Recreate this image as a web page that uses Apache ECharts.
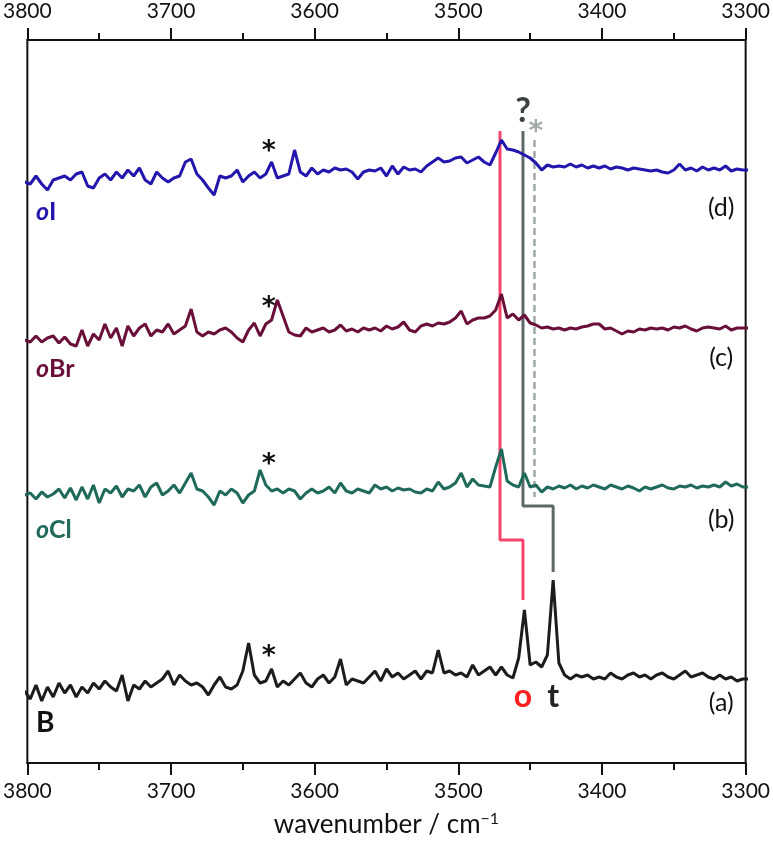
<!DOCTYPE html>
<html>
<head>
<meta charset="utf-8">
<script src="https://cdn.jsdelivr.net/npm/echarts@6/dist/echarts.min.js"></script>
<style>
  html, body { margin: 0; background: #fff; }
  #chart { width: 773px; height: 846px; }
</style>
</head>
<body>
<div id="chart"></div>
<script>
// wavenumber grid (cm-1), 4 cm-1 steps
const wavenumber = [
  3802, 3798, 3794, 3790, 3786, 3782, 3778, 3774, 3770, 3766,
  3762, 3758, 3754, 3750, 3746, 3742, 3738, 3734, 3730, 3726,
  3722, 3718, 3714, 3710, 3706, 3702, 3698, 3694, 3690, 3686,
  3682, 3678, 3674, 3670, 3666, 3662, 3658, 3654, 3650, 3646,
  3642, 3638, 3634, 3630, 3626, 3622, 3618, 3614, 3610, 3606,
  3602, 3598, 3594, 3590, 3586, 3582, 3578, 3574, 3570, 3566,
  3562, 3558, 3554, 3550, 3546, 3542, 3538, 3534, 3530, 3526,
  3522, 3518, 3514, 3510, 3506, 3502, 3498, 3494, 3490, 3486,
  3482, 3478, 3474, 3470, 3466, 3462, 3458, 3454, 3450, 3446,
  3442, 3438, 3434, 3430, 3426, 3422, 3418, 3414, 3410, 3406,
  3402, 3398, 3394, 3390, 3386, 3382, 3378, 3374, 3370, 3366,
  3362, 3358, 3354, 3350, 3346, 3342, 3338, 3334, 3330, 3326,
  3322, 3318, 3314, 3310, 3306, 3302, 3298
];

// (a) B
const specA = [
  2, -6, 8, -8, 6, -4, 10, 0, 8, -4,
  6, 0, 10, 4, 12, 6, 2, 18, -8, 8,
  4, 12, 6, 10, 14, 22, 8, 18, 12, 8,
  10, 6, -2, 8, 16, 6, 4, 8, 22, 50,
  18, 10, 12, 24, 6, 12, 8, 14, 20, 10,
  6, 14, 18, 10, 16, 34, 8, 14, 12, 10,
  16, 22, 12, 24, 16, 20, 14, 18, 22, 14,
  22, 20, 43, 20, 22, 18, 20, 16, 28, 18,
  22, 26, 18, 26, 18, 15, 35, 83, 28, 31,
  26, 38, 113, 30, 18, 14, 18, 16, 18, 14,
  16, 14, 20, 16, 14, 18, 20, 16, 18, 14,
  18, 20, 16, 14, 18, 22, 16, 18, 20, 16,
  14, 18, 14, 16, 12, 14, 14
];
// (b) oCl
const specB = [
  0, 2, -4, 3, -2, 1, 6, -3, 7, -5,
  8, -4, 10, -8, 6, 2, 9, -2, 6, 4,
  10, -2, 8, 12, 0, 4, 10, 2, 12, 22,
  6, 4, -2, -10, 4, 0, 6, 2, -8, 0,
  4, 25, 10, 4, 6, 2, 6, 4, -4, 2,
  6, 2, 4, 8, 2, 12, 4, 2, 6, 4,
  2, 10, 6, 8, 4, 7, 5, 6, 3, 2,
  6, 4, 13, 6, 8, 12, 22, 8, 16, 10,
  9, 8, 28, 46, 14, 10, 8, 22, 8, 10,
  3, 8, 6, 9, 7, 10, 6, 9, 7, 10,
  8, 6, 10, 8, 6, 9, 7, 4, 8, 6,
  8, 10, 7, 6, 9, 8, 10, 7, 9, 8,
  10, 8, 13, 9, 11, 8, 8
];
// (c) oBr
const specC = [
  0, -2, 4, -2, 2, 4, -3, 3, -4, -6,
  10, -6, 6, 0, 16, 2, 12, -6, 14, 4,
  12, 16, 4, 10, 8, 16, 6, 10, 14, 31,
  8, 4, 8, 6, 10, 12, 8, 2, -2, 10,
  17, 4, 16, 20, 40, 24, 8, 5, 4, 12,
  8, 10, 12, 8, 10, 15, 9, 11, 8, 12,
  10, 12, 9, 14, 11, 13, 18, 10, 8, 14,
  16, 14, 17, 16, 18, 22, 29, 16, 20, 22,
  22, 24, 30, 46, 22, 26, 20, 25, 17, 15,
  12, 13, 11, 12, 10, 12, 11, 13, 14, 16,
  16, 11, 12, 9, 6, 9, 8, 11, 10, 12,
  11, 12, 10, 13, 12, 14, 11, 9, 12, 13,
  12, 11, 14, 10, 12, 12, 12
];
// (d) oI
const specD = [
  0, -2, 6, -2, -8, 2, 4, 6, 2, 8,
  10, -4, -6, 4, 8, 2, 10, 4, 12, 6,
  14, 2, -2, 10, 4, 0, 4, 6, 20, 23,
  8, 2, -6, -13, 6, 4, 6, 12, 0, 6,
  10, 4, 8, 20, 4, 6, 8, 32, 10, 6,
  14, 8, 12, 10, 14, 12, 13, 10, 3, 10,
  12, 11, 14, 6, 16, 8, 15, 12, 13, 10,
  16, 20, 24, 20, 21, 24, 25, 19, 22, 25,
  20, 17, 29, 42, 33, 32, 30, 27, 24, 19,
  12, 17, 15, 16, 15, 18, 15, 17, 14, 16,
  14, 16, 13, 15, 14, 12, 14, 13, 12, 11,
  12, 10, 9, 12, 18, 12, 14, 11, 15, 12,
  14, 12, 16, 11, 13, 12, 12
];

// vertical stacking offsets of the traces
const offsetA = 70, offsetB = 268, offsetC = 423, offsetD = 581;

// assignment markers [wavenumber, intensity]
const oMarker = [[3471, 632], [3471, 223], [3455, 223], [3455, 163]];
const tMarker = [[3455, 632], [3455, 257], [3434, 257], [3434, 191]];
const unknownMarker = [[3447, 623], [3447, 266]];

const font = 'Lato';

function trace(spec, offset) {
  return wavenumber.map((w, i) => [w, offset + spec[i]]);
}

function lineSeries(name, data, color, extra) {
  return Object.assign({
    name: name,
    type: 'line',
    data: data,
    symbol: 'none',
    clip: true,
    silent: true,
    lineStyle: { color: color, width: 3 },
    z: 3
  }, extra || {});
}

// text annotations
const star = { fontSize: 27, fontWeight: 'bold', color: '#111', fontFamily: 'DejaVu Sans' };
const tag = { fontSize: 25, color: '#111' };
const annotations = [
  { value: [3632, 611], text: '*', s: star },
  { value: [3632, 455], text: '*', s: star },
  { value: [3632, 298], text: '*', s: star },
  { value: [3632, 106], text: '*', s: star },
  { value: [3455, 652], text: '?', s: { fontSize: 34, fontWeight: 'bold', color: '#3b4343' } },
  { value: [3446, 630], text: '*', s: { fontSize: 28, fontWeight: 'bold', color: '#a3abab', fontFamily: 'DejaVu Sans' } },
  { value: [3455, 66], text: 'o', s: { fontSize: 32, fontWeight: 'bold', color: '#ff1f1f' } },
  { value: [3434, 66], text: 't', s: { fontSize: 32, fontWeight: 'bold', color: '#222' } },
  { value: [3317, 555], text: '(d)', s: tag },
  { value: [3317, 405], text: '(c)', s: tag },
  { value: [3317, 243], text: '(b)', s: tag },
  { value: [3317, 60], text: '(a)', s: tag },
  { value: [3794, 551], text: '{i|o}{n|I}', s: { color: '#2316ad', align: 'left' } },
  { value: [3794, 394], text: '{i|o}{n|Br}', s: { color: '#6a0f3a', align: 'left' } },
  { value: [3794, 233], text: '{i|o}{n|Cl}', s: { color: '#1f6a5a', align: 'left' } },
  { value: [3794, 40], text: '{b|B}', s: { color: '#111', align: 'left' } }
];

const axisCommon = {
  type: 'value',
  min: 3300,
  max: 3800,
  interval: 100,
  inverse: true,
  axisLine: { show: true, onZero: false, lineStyle: { color: '#111', width: 2 } },
  axisTick: { show: true, length: 12, lineStyle: { color: '#111', width: 2 } },
  minorTick: { show: true, splitNumber: 2, length: 7, lineStyle: { color: '#111', width: 2 } },
  splitLine: { show: false },
  axisLabel: { color: '#111', fontSize: 21, fontFamily: font, margin: 18, formatter: v => String(v) }
};

const chart = echarts.init(document.getElementById('chart'));
chart.setOption({
  animation: false,
  textStyle: { fontFamily: font },
  grid: { left: 24, right: 25, top: 40, bottom: 83, show: true, borderColor: '#111', borderWidth: 2 },
  xAxis: [
    Object.assign({}, axisCommon, {
      position: 'bottom',
      name: 'wavenumber / cm{sup|−1}',
      nameLocation: 'middle',
      nameGap: 48,
      nameTextStyle: {
        fontSize: 26, color: '#111', fontFamily: font,
        rich: { sup: { fontSize: 16, verticalAlign: 'top', padding: [0, 0, 12, 0], color: '#111' } }
      }
    }),
    Object.assign({}, axisCommon, { position: 'top' })
  ],
  yAxis: { type: 'value', min: 0, max: 723, show: false },
  series: [
    lineSeries('oI', trace(specD, offsetD), '#2316ad'),
    lineSeries('oBr', trace(specC, offsetC), '#6a0f3a'),
    lineSeries('oCl', trace(specB, offsetB), '#1f6a5a'),
    lineSeries('B', trace(specA, offsetA), '#1c1c1c'),
    lineSeries('o', oMarker, '#f8446c', { z: 2 }),
    lineSeries('t', tMarker, '#5f6868', { z: 2 }),
    lineSeries('?', unknownMarker, '#a3abab', { z: 2, lineStyle: { color: '#a3abab', width: 2.6, type: [7, 4] } }),
    {
      type: 'scatter',
      symbolSize: 0,
      silent: true,
      z: 5,
      itemStyle: { opacity: 1 },
      data: annotations.map(a => ({
        value: a.value,
        label: Object.assign({
          show: true,
          position: 'inside',
          formatter: a.text,
          fontFamily: font,
          opacity: 1,
          textBorderWidth: 0,
          textShadowBlur: 0,
          rich: {
            i: { fontSize: 25, fontWeight: 'bold', fontStyle: 'italic', fontFamily: font, textBorderWidth: 0 },
            n: { fontSize: 25, fontWeight: 'bold', fontFamily: font, textBorderWidth: 0 },
            b: { fontSize: 28, fontWeight: 'bold', fontFamily: font, textBorderWidth: 0 }
          }
        }, a.s)
      }))
    }
  ]
});
</script>
</body>
</html>
